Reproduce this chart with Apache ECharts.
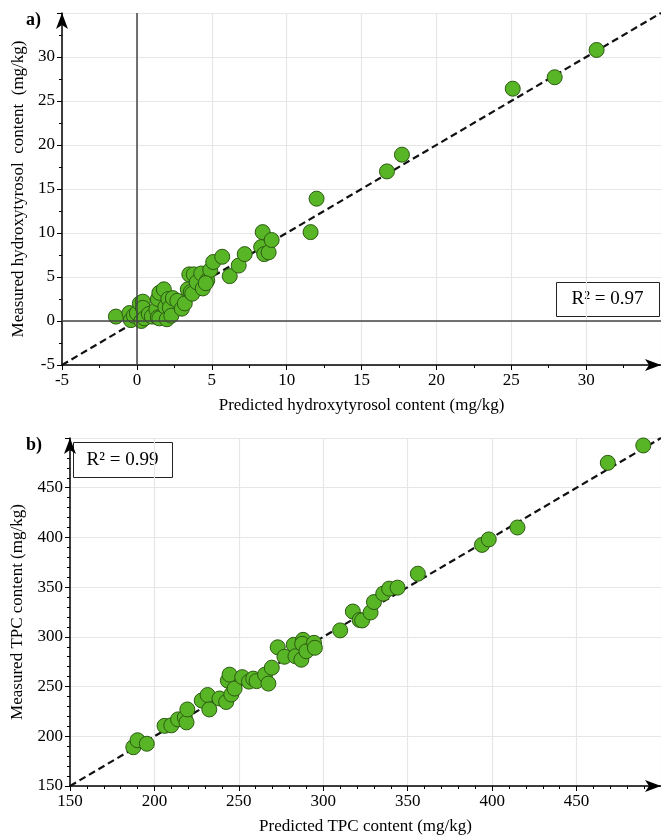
<!DOCTYPE html>
<html>
<head>
<meta charset="utf-8">
<script src="https://cdn.jsdelivr.net/npm/echarts@6/dist/echarts.min.js"></script>
<style>
  html, body { margin: 0; padding: 0; background: #fff; }
  #chart { width: 661px; height: 836px; }
</style>
</head>
<body>
<div id="chart"></div>
<script>
// a) hydroxytyrosol, predicted vs measured (mg/kg)
var hyPred = [-1.4, -0.5, -0.4, -0.2, 0.0, 0.2, 0.4, 0.4, 0.3, 0.5, 0.8, 1.0, 1.3, 1.4, 1.5,
  1.4, 1.5, 1.8, 1.9, 2.0, 2.1, 2.2, 2.3, 2.4, 2.7, 3.0, 3.2, 3.4, 3.6, 3.5, 3.8, 3.7, 4.0,
  4.3, 4.4, 4.7, 4.9, 4.6, 5.1, 5.7, 6.2, 6.8, 7.2, 8.4, 8.3, 8.5, 8.8, 9.0, 11.6, 12.0,
  16.7, 17.7, 25.1, 27.9, 30.7];
var hyMeas = [0.5, 0.9, 0.1, 0.6, 0.9, 2.0, 2.2, 1.5, 0.0, 0.3, 0.8, 0.5, 1.3, 0.4, 0.3,
  2.5, 3.2, 3.6, 1.6, 0.2, 2.5, 1.5, 0.6, 2.6, 2.3, 1.4, 2.0, 3.6, 3.3, 5.3, 5.3, 3.1, 4.4,
  5.4, 3.7, 4.6, 5.8, 4.3, 6.7, 7.3, 5.1, 6.3, 7.6, 10.1, 8.4, 7.6, 7.8, 9.2, 10.1, 13.9,
  17.0, 18.9, 26.4, 27.7, 30.8];
var hyLine = [-5, 35];
var hyZero = 0;
var hyR2 = '0.97';

// b) TPC, predicted vs measured (mg/kg)
var tpcPred = [187.5, 190, 195.5, 206, 210, 214, 218, 219, 219.5, 228, 231.5, 232.5, 238.5,
  242.5, 243.5, 244.5, 245.5, 247.5, 252, 256, 258.5, 260.5, 265.5, 267.5, 269.5, 273, 277,
  282.5, 283.5, 287, 288, 287.5, 290, 294.5, 295, 310, 317.5, 321.5, 323, 328, 330, 335.5,
  339, 344, 356, 394, 398, 415, 468.5, 489.5];
var tpcMeas = [189, 196, 192.5, 210.5, 211, 217, 219, 214, 227, 236, 241.5, 227, 238,
  234.5, 256, 262, 242, 248, 259.5, 255, 258, 255.5, 262, 253, 269, 289.5, 280,
  292, 280.5, 277, 297, 293, 285.5, 294, 289, 306.5, 325.5, 317, 316.5, 324.5, 335, 343.5,
  348.5, 349.5, 363.5, 392.5, 398, 410, 475, 492.5];
var tpcLine = [150, 500];
var tpcR2 = '0.99';

function pairs(xs, ys) {
  return xs.map(function (x, i) { return [x, ys[i]]; });
}

var serif = 'Liberation Serif';

function valueAxis(grid, min, max, interval, minorSplit, name, gap) {
  return {
    gridIndex: grid,
    type: 'value',
    min: min,
    max: max,
    interval: interval,
    name: name,
    nameLocation: 'middle',
    nameGap: gap,
    nameTextStyle: { fontFamily: serif, fontSize: 17, color: '#000' },
    axisLine: {
      onZero: false,
      symbol: ['none', 'arrow'],
      symbolSize: [9, 16],
      symbolOffset: [0, 0],
      lineStyle: { color: '#000', width: 1.5 }
    },
    axisTick: { length: 5, lineStyle: { color: '#000' } },
    minorTick: { show: true, splitNumber: minorSplit, length: 3, lineStyle: { color: '#000' } },
    axisLabel: { showMaxLabel: false, fontFamily: serif, fontSize: 17, color: '#000', margin: 7 },
    splitLine: { show: true, lineStyle: { color: '#e6e6e6', width: 1.2 } }
  };
}

var dotStyle = { color: '#58b526', borderColor: '#2c5a12', borderWidth: 1, opacity: 1 };
var dashStyle = { color: '#111', width: 2.2, type: [7, 4] };

var myChart = echarts.init(document.getElementById('chart'));

option = {
  animation: false,
  backgroundColor: '#fff',
  grid: [
    { left: 62, right: 0, top: 13, bottom: 471 },
    { left: 70, right: 0, top: 438, bottom: 47 }
  ],
  xAxis: [
    valueAxis(0, -5, 35, 5, 2, 'Predicted hydroxytyrosol content (mg/kg)', 32),
    valueAxis(1, 150, 500, 50, 5, 'Predicted TPC content (mg/kg)', 32)
  ],
  yAxis: [
    valueAxis(0, -5, 35, 5, 2, 'Measured hydroxytyrosol  content  (mg/kg)', 35),
    valueAxis(1, 150, 500, 50, 5, 'Measured TPC content (mg/kg)', 44)
  ],
  graphic: [
    { type: 'text', left: 26, top: 11, style: { text: 'a)', font: 'bold 18px "Liberation Serif"', fill: '#000' } },
    { type: 'text', left: 26, top: 436, style: { text: 'b)', font: 'bold 18px "Liberation Serif"', fill: '#000' } },
    {
      type: 'group', left: 556, top: 282, children: [
        { type: 'rect', shape: { x: 0, y: 0, width: 103, height: 34 }, style: { fill: '#fff', stroke: '#222', lineWidth: 1 } },
        { type: 'text', x: 51, y: 17, style: { text: 'R² = ' + hyR2, font: '19px "Liberation Serif"', fill: '#000', align: 'center', verticalAlign: 'middle' } }
      ]
    },
    {
      type: 'group', left: 73, top: 442, children: [
        { type: 'rect', shape: { x: 0, y: 0, width: 99, height: 35 }, style: { fill: '#fff', stroke: '#222', lineWidth: 1 } },
        { type: 'text', x: 49, y: 18, style: { text: 'R² = ' + tpcR2, font: '19px "Liberation Serif"', fill: '#000', align: 'center', verticalAlign: 'middle' } }
      ]
    }
  ],
  series: [
    {
      type: 'line',
      xAxisIndex: 0, yAxisIndex: 0,
      data: [[hyLine[0], hyLine[0]], [hyLine[1], hyLine[1]]],
      symbol: 'none',
      lineStyle: dashStyle,
      z: 3,
      markLine: {
        silent: true,
        symbol: 'none',
        label: { show: false },
        lineStyle: { color: '#444', width: 1.5, type: 'solid' },
        data: [{ xAxis: hyZero }, { yAxis: hyZero }]
      }
    },
    {
      type: 'scatter',
      xAxisIndex: 0, yAxisIndex: 0,
      data: pairs(hyPred, hyMeas),
      symbolSize: 15,
      itemStyle: dotStyle,
      z: 4
    },
    {
      type: 'line',
      xAxisIndex: 1, yAxisIndex: 1,
      data: [[tpcLine[0], tpcLine[0]], [tpcLine[1], tpcLine[1]]],
      symbol: 'none',
      lineStyle: dashStyle,
      z: 3
    },
    {
      type: 'scatter',
      xAxisIndex: 1, yAxisIndex: 1,
      data: pairs(tpcPred, tpcMeas),
      symbolSize: 15,
      itemStyle: dotStyle,
      z: 4
    }
  ]
};
myChart.setOption(option);
</script>
</body>
</html>
